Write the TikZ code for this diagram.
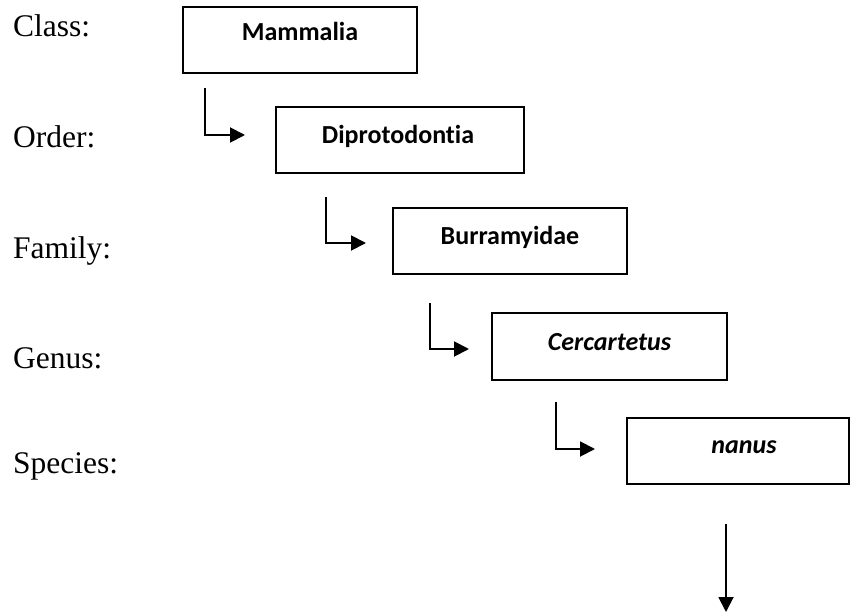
\documentclass[tikz,border=0pt]{standalone}
\usepackage{fontspec}
\setmainfont{Liberation Serif}
\newfontfamily\boxfont[Ligatures=NoCommon]{Carlito}
\usetikzlibrary{arrows.meta}
\begin{document}
\begin{tikzpicture}[x=1pt,y=-1pt,
  taxbox/.style={draw=black,line width=1.9pt,rectangle,inner sep=0pt,minimum height=66pt},
  taxtext/.style={anchor=base,inner sep=0pt,font=\boxfont\fontsize{26}{31}\selectfont\bfseries},
  ranklabel/.style={anchor=base west,inner sep=0pt,font=\fontsize{31.5}{38}\selectfont},
  conn/.style={line width=1.9pt,-{Triangle[length=15pt,width=15pt]}}]
\useasboundingbox (0,0) rectangle (850,612);
% rank labels
\node[ranklabel] (lclass) at (13,37) {Class:};
\node[ranklabel] (lorder) at (13,148) {Order:};
\node[ranklabel] (lfamily) at (13,258) {Family:};
\node[ranklabel] (lgenus) at (13,368) {Genus:};
\node[ranklabel] (lspecies) at (13,473) {Species:};
% boxes
\node[taxbox,minimum width=234pt] (b1) at (300,40) {};
\node[taxbox,minimum width=248pt] (b2) at (400,140) {};
\node[taxbox,minimum width=234pt] (b3) at (510,241) {};
\node[taxbox,minimum width=235pt,minimum height=67pt] (b4) at (609.5,346.5) {};
\node[taxbox,minimum width=222pt] (b5) at (738,451) {};
% box texts
\node[taxtext] (t1) at (300,41) {Mammalia};
\node[taxtext] (t2) at (398,144) {Diprotodontia};
\node[taxtext] (t3) at (510,244) {Burramyidae};
\node[taxtext] (t4) at (609.5,350) {\itshape Cercartetus};
\node[taxtext] (t5) at (744,453) {\itshape nanus};
% connectors
\coordinate (s1) at (205,88);  \coordinate (e1) at (245,135);
\coordinate (s2) at (326,197); \coordinate (e2) at (366,243);
\coordinate (s3) at (430,303); \coordinate (e3) at (469,349);
\coordinate (s4) at (556,402); \coordinate (e4) at (595,449);
\coordinate (s5) at (726,524); \coordinate (e5) at (726,612);
\draw[conn] (s1) |- (e1);
\draw[conn] (s2) |- (e2);
\draw[conn] (s3) |- (e3);
\draw[conn] (s4) |- (e4);
\draw[conn] (s5) -- (e5);
\end{tikzpicture}
\end{document}
